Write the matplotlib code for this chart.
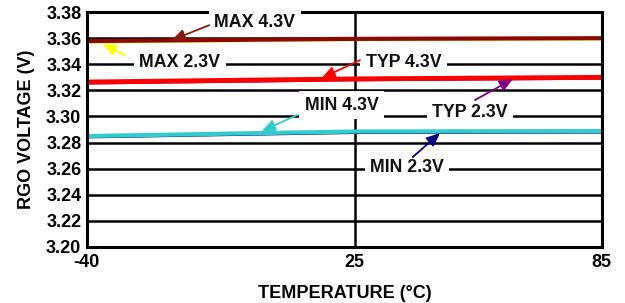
import matplotlib
matplotlib.use("Agg")
import matplotlib.pyplot as plt

plt.rcParams['font.family'] = ['Liberation Sans', 'DejaVu Sans']
plt.rcParams['font.weight'] = 'bold'

temps = [-40, 25, 85]
max_43 = [3.3578, 3.3595, 3.3600]
max_23 = [3.3572, 3.3591, 3.3597]
typ_43 = [3.3264, 3.3288, 3.3300]
typ_23 = [3.3258, 3.3283, 3.3295]
min_43 = [3.2850, 3.2885, 3.2888]
min_23 = [3.2845, 3.2879, 3.2882]

xticks = [-40, 25, 85]
yticks = [3.20, 3.22, 3.24, 3.26, 3.28, 3.30, 3.32, 3.34, 3.36, 3.38]

fig = plt.figure(figsize=(6.25, 3.03), dpi=100)
ax = fig.add_axes([0.139, 0.185, 0.824, 0.775])

ax.set_xlim(-40, 85)
ax.set_ylim(3.20, 3.38)
ax.set_xticks(xticks)
ax.set_yticks(yticks)
ax.set_xticklabels([str(t) for t in xticks])
ax.set_yticklabels([f"{v:.2f}" for v in yticks])
ax.tick_params(axis='y', length=0, labelsize=13, pad=4)
ax.tick_params(axis='x', length=0, labelsize=13, pad=5)
for lab in ax.get_xticklabels() + ax.get_yticklabels():
    lab.set_fontweight('bold')

for y in yticks[1:-1]:
    ax.axhline(y, color='black', lw=1.8, zorder=1)
ax.axvline(25, color='black', lw=1.8, zorder=1)
for s in ax.spines.values():
    s.set_linewidth(2.2)
    s.set_zorder(5)

ax.plot(temps, max_23, color='#FFFF00', lw=2.5, zorder=3)
ax.plot(temps, max_43, color='#8B0A00', lw=3, zorder=4)
ax.plot(temps, typ_23, color='#800080', lw=2.5, zorder=3)
ax.plot(temps, typ_43, color='#FF0000', lw=3.5, zorder=4)
ax.plot(temps, min_23, color='#000080', lw=2.5, zorder=3)
ax.plot(temps, min_43, color='#33CCCC', lw=3, zorder=4)

labels = [
    ("MAX 4.3V", 0.8, 3.3723, (-10.3, 3.3700), (-19.4, 3.3585), '#8B1A0A'),
    ("MAX 2.3V", -17.4, 3.3417, (-30.8, 3.3470), (-36.1, 3.3555), '#FFFF00'),
    ("TYP 4.3V", 36.9, 3.3417, (26.3, 3.3432), (17.0, 3.3294), '#FF0000'),
    ("TYP 2.3V", 53.0, 3.3034, (54.2, 3.3126), (63.4, 3.3287), '#800080'),
    ("MIN 4.3V", 21.9, 3.3087, (11.0, 3.3011), (2.5, 3.2888), '#33CCCC'),
    ("MIN 2.3V", 37.7, 3.2612, (39.1, 3.2689), (45.7, 3.2873), '#000080'),
]
for text, tx, ty, tail, tip, col in labels:
    ax.text(tx, ty, text, ha='center', va='center', fontsize=12.8, fontweight='bold',
            color='#111111', zorder=6,
            bbox=dict(facecolor='white', edgecolor='none', pad=4))
    ax.annotate('', xy=tip, xytext=tail,
                arrowprops=dict(arrowstyle='-|>,head_length=0.8,head_width=0.35',
                                color=col, lw=1.3, shrinkA=0, shrinkB=0),
                zorder=7)

ax.set_xlabel("TEMPERATURE (°C)", fontsize=13, fontweight='bold', labelpad=10)
ax.set_ylabel("RGO VOLTAGE (V)", fontsize=13, fontweight='bold', labelpad=8)

fig.savefig("out.png", dpi=100)
